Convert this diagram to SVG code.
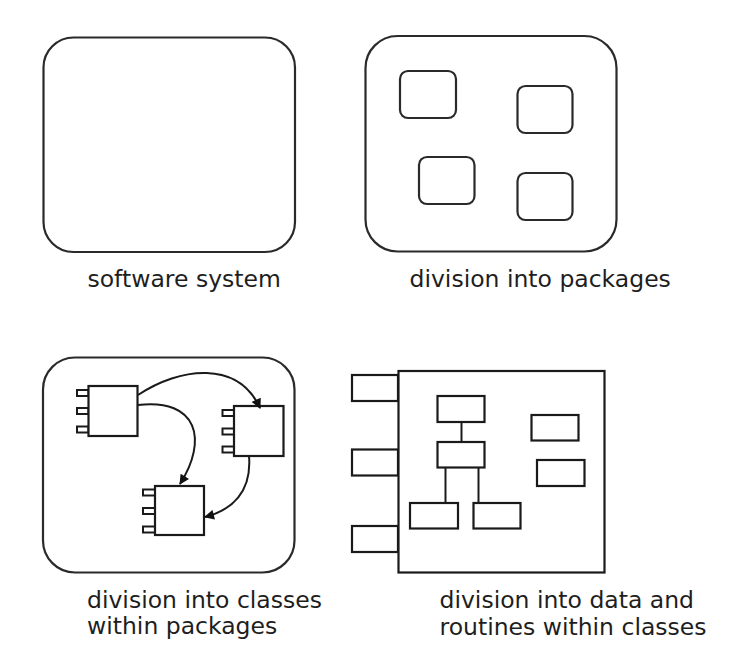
<svg xmlns="http://www.w3.org/2000/svg" width="747" height="649" viewBox="0 0 747 649">
<defs>
<style>
.frame{fill:none;stroke:#2a2a2a;stroke-width:2.2}
.box{fill:#fff;stroke:#1a1a1a;stroke-width:2.2}
.port{fill:#fff;stroke:#1a1a1a;stroke-width:2}
.link{fill:none;stroke:#1a1a1a;stroke-width:2}
.lbl{font-family:"DejaVu Sans",Verdana,sans-serif;font-size:23.5px;fill:#1e1e1e}
</style>
<marker id="arr" viewBox="0 0 10 10" refX="9" refY="5" markerWidth="11" markerHeight="10" markerUnits="userSpaceOnUse" orient="auto">
<path d="M0,0 L10,5 L0,10 z" fill="#111"/>
</marker>
</defs>
<rect width="747" height="649" fill="#fff"/>

<g id="software-system">
<rect class="frame" x="43.5" y="37.5" width="251.5" height="214.5" rx="30"/>
<text class="lbl" x="87.5" y="287">software system</text>
</g>

<g id="packages">
<rect class="frame" x="365.5" y="36" width="251" height="215.5" rx="32"/>
<rect class="frame" x="400" y="71" width="56" height="47" rx="8"/>
<rect class="frame" x="517.5" y="86" width="55" height="47" rx="8"/>
<rect class="frame" x="419" y="157" width="55.5" height="47" rx="8"/>
<rect class="frame" x="517.5" y="173" width="55" height="47" rx="8"/>
<text class="lbl" x="409.5" y="287">division into packages</text>
</g>

<g id="classes">
<rect class="frame" x="43" y="357.5" width="251.5" height="215" rx="32"/>
<g id="class-a">
<rect class="port" x="77" y="390" width="11.5" height="6"/>
<rect class="port" x="77" y="408" width="11.5" height="6"/>
<rect class="port" x="77" y="426.5" width="11.5" height="6"/>
<rect class="box" x="88.5" y="386" width="49" height="50"/>
</g>
<g id="class-b">
<rect class="port" x="222.5" y="410" width="11.5" height="6"/>
<rect class="port" x="222.5" y="428.5" width="11.5" height="6"/>
<rect class="port" x="222.5" y="446.5" width="11.5" height="6"/>
<rect class="box" x="234" y="406" width="49.5" height="50"/>
</g>
<g id="class-c">
<rect class="port" x="143" y="489.5" width="12" height="6"/>
<rect class="port" x="143" y="508" width="12" height="6"/>
<rect class="port" x="143" y="526.5" width="12" height="6"/>
<rect class="box" x="155" y="486" width="49" height="49"/>
</g>
<text class="lbl" x="87" y="607.5">division into classes</text>
<text class="lbl" x="87" y="634">within packages</text>
</g>

<g id="routines">
<rect class="box" x="352" y="375" width="46" height="26"/>
<rect class="box" x="352" y="449.5" width="46" height="26"/>
<rect class="box" x="352" y="526" width="46" height="26"/>
<rect class="box" x="398.5" y="371" width="206" height="201.5"/>
<rect class="box" x="437.5" y="396" width="47" height="26"/>
<rect class="box" x="437.5" y="442" width="47" height="25.5"/>
<rect class="box" x="410" y="503" width="48" height="25.5"/>
<rect class="box" x="473.5" y="503" width="47" height="25.5"/>
<rect class="box" x="531.5" y="415" width="47" height="25.5"/>
<rect class="box" x="537" y="460" width="47.5" height="26"/>
<text class="lbl" x="439.5" y="607.5">division into data and</text>
<text class="lbl" x="439.5" y="635">routines within classes</text>
</g>

<g id="connectors">
<path class="link" d="M138,395 C180,367 238,360 260,408" marker-end="url(#arr)"/>
<path class="link" d="M138,405 C198,398 208,440 180,484" marker-end="url(#arr)"/>
<path class="link" d="M249,456 C252,492 232,510 205,517" marker-end="url(#arr)"/>
<line class="link" x1="461.5" y1="422" x2="461.5" y2="442"/>
<line class="link" x1="445.5" y1="467.5" x2="445.5" y2="503"/>
<line class="link" x1="478.5" y1="467.5" x2="478.5" y2="503"/>
</g>
</svg>
